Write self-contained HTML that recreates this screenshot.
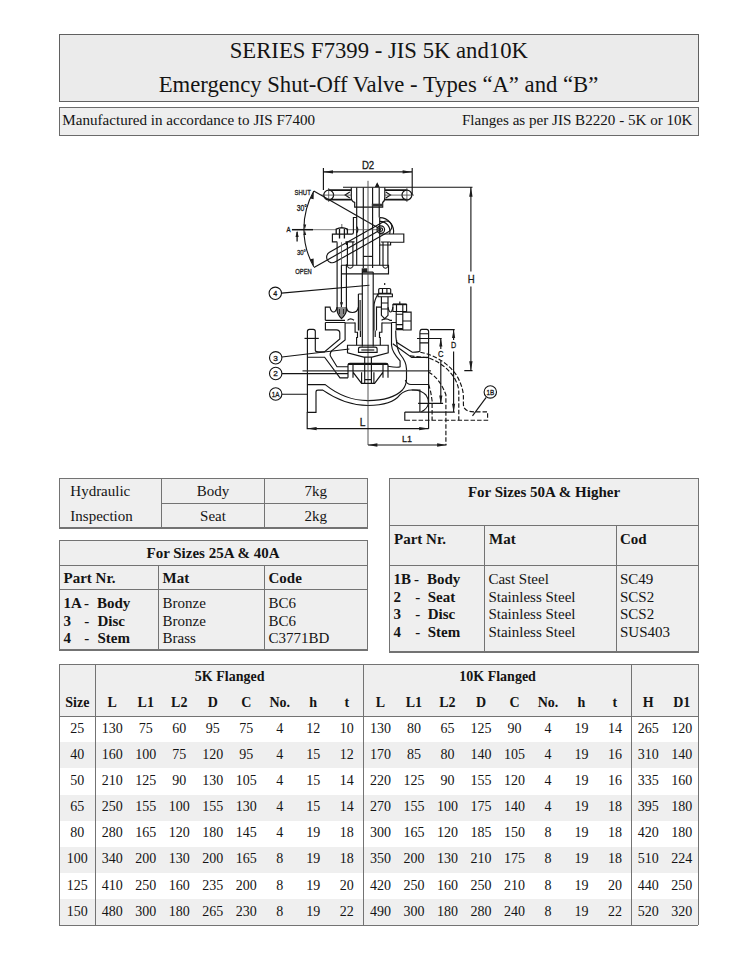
<!DOCTYPE html>
<html><head><meta charset="utf-8"><style>
html,body{margin:0;padding:0;background:#fff;width:731px;height:974px;overflow:hidden;}
body{position:relative;font-family:"Liberation Serif",serif;}
.a{position:absolute;}
.t{position:absolute;line-height:1;white-space:pre;color:#141414;}
</style></head><body>
<div class="a" style="left:59.5px;top:34.5px;width:638.6px;height:66.7px;background:#ebebeb;"></div>
<div class="a" style="left:58.925px;top:33.92px;width:639.7500000000001px;height:1.15px;background:#606060"></div>
<div class="a" style="left:58.925px;top:100.62px;width:639.7500000000001px;height:1.15px;background:#606060"></div>
<div class="a" style="left:58.92px;top:34.5px;width:1.15px;height:66.7px;background:#606060"></div>
<div class="a" style="left:697.52px;top:34.5px;width:1.15px;height:66.7px;background:#606060"></div>
<div class="t" style="top:40.49px;font-size:22.7px;left:-21.19999999999999px;width:800px;text-align:center;">SERIES F7399 - JIS 5K and10K</div>
<div class="t" style="top:73.69px;font-size:22.7px;left:-21.5px;width:800px;text-align:center;">Emergency Shut-Off Valve - Types “A” and “B”</div>
<div class="a" style="left:59.5px;top:107.5px;width:638.6px;height:27.69999999999999px;background:#eeeeee;"></div>
<div class="a" style="left:58.925px;top:106.92px;width:639.7500000000001px;height:1.15px;background:#6a6a6a"></div>
<div class="a" style="left:58.925px;top:134.62px;width:639.7500000000001px;height:1.15px;background:#6a6a6a"></div>
<div class="a" style="left:58.92px;top:107.5px;width:1.15px;height:27.69999999999999px;background:#6a6a6a"></div>
<div class="a" style="left:697.52px;top:107.5px;width:1.15px;height:27.69999999999999px;background:#6a6a6a"></div>
<div class="t" style="top:112.85px;font-size:15.1px;left:62.3px;">Manufactured in accordance to JIS F7400</div>
<div class="t" style="top:112.85px;font-size:15.1px;left:92.5px;width:600px;text-align:right;">Flanges as per JIS B2220 - 5K or 10K</div>
<svg class="a" style="left:0;top:0" width="731" height="974" viewBox="0 0 731 974">
<g fill="none" stroke="#141414" stroke-width="1.15" stroke-linecap="butt" stroke-linejoin="miter">
<!-- D2 dimension -->
<path d="M323.4,171.9H412.2M323.4,168V190M412.2,168V195"/>
<!-- H dimension -->
<path d="M343,187.3H472.5M470.9,187.3V271.5M470.9,286.5V370.6M464.3,370.6H472.5" stroke-width="1.1"/>
<!-- handwheel -->
<circle cx="328.7" cy="195.1" r="4.9" stroke-width="1.3"/>
<circle cx="406.9" cy="195.1" r="4.9" stroke-width="1.3"/>
<path d="M328.2,190.2H351.3M328.2,199.6H351.3M384.8,190.2H407.4M384.8,199.6H407.4" stroke-width="1.7"/>
<path d="M349.8,192.1L345.1,195.1L349.8,198.1M385.8,192.1L390.5,195.1L385.8,198.1"/>
<path d="M351.3,187.5V197.5Q351.3,201.5 354.7,202.4V207.1H382.7V202.4Q384.8,201.5 384.8,197.5V187.5"/>
<path d="M356.7,187.5V244M363.3,187.5V268M372.6,187.5V268M379.2,187.5V217.6"/>
<path d="M321,195.1H351.3M384.8,195.1H414M328.7,188V202M406.9,188V202" stroke-width="0.8" stroke="#444"/>
<path d="M375.5,187L377.2,183.5L379,187" fill="#1c1c1c"/>
<rect x="371.8" y="203.7" width="10.9" height="2.8" fill="#333" stroke="none"/>
<!-- angle indicator -->
<path d="M313.8,191A77.5,77.5 0 0 0 313.8,266.8" stroke-width="1.1"/>
<path d="M313.8,191L381,229.6"/>
<path d="M291.9,229.7H313" stroke-width="1.5"/><path d="M313,229.7H336.5M346.3,229.7H381" stroke="#555" stroke-width="0.8"/>
<path d="M297.1,232V241.5" stroke-width="1.3"/>
<!-- lever capsule -->
<g transform="rotate(-29.5 381 229.6)">
<path d="M325,224H387A5.6,5.6 0 0 1 387,235.2H325A5.6,5.6 0 0 1 325,224Z"/>
<path d="M304,229.6H381"/>
</g>
<circle cx="380.8" cy="229.6" r="3.8" stroke-width="1.2"/>
<circle cx="380.8" cy="229.6" r="1.8"/>
<path d="M379.7,217.6A14,14 0 0 1 393.4,234M379.7,221.4A10,10 0 0 1 389.6,234"/>
<!-- brackets -->
<path d="M379.7,217.6V234H403.8V242.2H390.6V245H379.7V234"/>
<path d="M356.7,217.5H353.4V232.5Q353.4,234.1 351.8,234.1H332.4V241.8H337.3"/><path d="M356.7,226.5Q359,229.8 356.7,233"/>

<path d="M336.2,234.1V229.2Q341.8,226.3 347.4,229.2V234.1M339.5,229V238.5M344.4,229V238.5" stroke-width="1.3"/><path d="M341.8,227V224" stroke="#777"/>
<path d="M337.1,242.2V307.1M346.4,264.3V307.1M346.4,242.2V245"/>
<path d="M341.5,242.2V307.1" stroke="#555" stroke-width="0.8"/>
<!-- studs -->
<path d="M347.4,242V266.5M352.9,242V266.5M383,242V266.5M387.9,242V266.5"/>
<path d="M345.5,241.8H354.5M381,242H390"/>
<path d="M347.4,266.5Q350.1,270 352.9,266.5M383,266.5Q385.5,270 387.9,266.5"/>
<path d="M341.4,265.2H388.5V273.8H341.4M341.4,265.2V307.1"/>
<path d="M379.7,245V265.2M356.7,244V265.2"/>
<path d="M363.3,256.4H372.6"/>
<rect x="361.7" y="268.3" width="5.5" height="3.8" fill="#222" stroke="none"/>
<!-- stem -->
<path d="M362.3,272.1V346.6M373.2,272.1V346.6M362.3,272.1H373.2"/>
<!-- leader 4 -->
<circle cx="275.3" cy="293.3" r="6.2" stroke-width="1.1"/>
<path d="M281.5,293.1L369.4,285.2"/>
<!-- left column tip -->
<path d="M337.1,307.1V310Q337.1,314 341.5,318.6Q346.4,314 346.4,310V307.1" fill="#888" stroke-width="1.2"/><path d="M339.5,309V314M343.5,309V314" stroke-width="0.8"/><rect x="340.3" y="302" width="2.4" height="2.4" fill="#222" stroke="none"/>
<!-- bonnet flange scalloped top -->
<path d="M325.3,320.3V307.1H330Q331,312 333.5,312Q336,312 337.1,307.1M346.4,307.1Q347,312.5 352.4,312.5Q357.5,312.5 358.4,307.1M376.5,307.1H381.4M388,307.1Q389,312 390.5,312Q392,312 392.9,307.1M325.3,320.3H345M347.5,320.3Q350.5,317.5 354,320.3M381.5,320.3Q386,317.5 390,320.3H392"/><path d="M402.8,312.1H411.1V330H402.8M402.8,321H411.1"/>
<path d="M325.3,322.5H345.1M391.5,322.5H396.2" stroke-width="1.2"/><path d="M345.1,323H355.1M381.9,323H391.5"/>
<!-- gland -->
<path d="M358.4,294H362.3M358.4,294V330.6M360.1,300V330.6M373.2,294H378.1Q374,300 374,307V330.6M376.5,306.6V330.6"/>
<path d="M355.1,322.5V332.2H357.5V337.5H356.6V345.2M381.9,322.5V332.2H379.5V337.5H380.3V345.2"/>
<path d="M360.4,330.6V337M375.2,330.6V337"/>
<!-- right gland stud -->
<path d="M378.7,293.4V289.5Q379,288.5 380,288.5H389.4Q390.7,288.5 390.7,289.5V293.4H378.7ZM382.5,288.5V293.4M386.9,288.5V293.4"/>
<path d="M378,294H392.4V296.7H378Z"/>
<path d="M381.4,296.7V315.3L384.7,318.6L388,315.3V296.7M381.4,303H388M381.4,309H388"/>
<path d="M384.7,285V283" />
<!-- big bolt right -->
<path d="M392.9,311.5V304.5H406.6V311.5Z" stroke-width="1.1"/><path d="M392.9,304.3H406.6" stroke-width="1.8"/><path d="M396.5,304.5V311.5M402.8,304.5V311.5M399.8,304V301.5"/>
<path d="M396.2,311.5V329.6H402.8V311.5M396.2,314.2H402.8M396.2,324.6H402.8"/>
<path d="M396.2,329H402.8" stroke-width="2"/>

<!-- body left contour -->
<path d="M307.4,412.3V331.5Q307.4,329.4 309.5,329.4H313.3Q315.3,329.4 315.3,331.5V350.4Q315.5,352 319,351.9H324.4L339.8,339V333Q339.8,329.8 336.4,329.8H325.4V322.5"/>
<path d="M304.5,338.4H318.8"/>
<path d="M345.1,322.5V339.9L331.6,350.9Q329,354.3 331,357L337,366.7H348"/>
<path d="M307.4,357.2H324.6L340,377.8H348"/>
<path d="M307.4,384.6H325.2Q345,400.6 368,400.6Q392,400.6 402.4,390Q406.5,385 406.5,378.4V369Q406.5,362 400,354Q396.6,348 396.6,340"/>
<path d="M307.4,412.3H316V392Q316,390.1 318,390.1H322.8Q345,405.5 368,405.5Q392,405.5 400.1,394.7Q405,390 411.7,390H419.9V412.1"/>
<!-- center lines -->
<path d="M302.5,370.8H431" stroke="#333" stroke-width="1.3"/>
<path d="M368,180.8V445" stroke="#444" stroke-width="0.9"/>
<!-- leaders 3,2,1A -->
<circle cx="275.7" cy="357.8" r="6.2" stroke-width="1.1"/>
<circle cx="275.7" cy="373.5" r="6.2" stroke-width="1.1"/>
<circle cx="275.7" cy="394" r="6.2" stroke-width="1.1"/>
<path d="M281.9,357L349.4,349M281.9,373.6H348M281.9,394.2H307.4"/>
<!-- disc holder -->
<path d="M347.5,345.2H388.2V352.8L372,357.1H363.7L347.5,352.8Z"/>
<path d="M358.5,352.4V349Q358.5,347.1 360.5,347.1H375.1Q377.1,347.1 377.1,349V352.4Z"/>
<path d="M361.3,350H374.3"/>
<!-- seat & disc -->
<path d="M348,377.8V365.5Q348,363.3 350,363.3H386Q388,363.3 388,365.5V377.8" />
<path d="M348,364.2H388" stroke-width="1.6"/>
<path d="M353,364.2V372.2L361.6,383.3H374.6L383,372.2V364.2M353,377.8V364M383,377.8V364"/>
<path d="M361.6,372.2V383.3M373.9,372.2V383.3M364.7,357.1V383.3M371.4,357.1V383.3M364.7,379.6H371.4"/>
<!-- right body -->
<path d="M428.6,428.8V331.5Q428.6,329.4 426.6,329.4H421.9Q419.9,329.4 419.9,333V351Q419.5,352.2 412.3,352.2L396.6,342.3Q395.7,338 395.7,330.6"/>
<path d="M417,338.5H436M419.9,333.7H428.6M419.9,342.8H428.6"/>
<path d="M392.8,343.7L411.7,357.4H428.6"/>
<path d="M391.5,322.5V345Q392,352 400.1,360.9V366.7Q398,368 388,366.2"/>
<path d="M405.3,380.1Q407,384.5 411,384.5H428.6M411.7,390Q421,389.5 426,395Q428.8,399 428.5,403Q427.5,409 421.3,411.8"/>
<!-- pipe (type B) dashed -->
<path d="M420.3,352.2C436,355 450,365 457,376C462,385 463.4,392 463.4,397V404Q463.4,411.8 473.7,411.8H487.6V420.2H410" stroke-dasharray="4.5 2"/>
<path d="M410,355.8L428.5,357.9C440,362 450,370 455.2,379.4C458,385 458.8,389 458.8,392V420.2" stroke-dasharray="4.5 2"/>
<path d="M428.5,372.2C436,376 442,384 445.9,394.8V445" stroke-dasharray="4.5 2"/>
<path d="M428.6,384.5C429.5,387 431,392 432.1,401V420.2" stroke-dasharray="4.5 2"/>
<path d="M404.8,412.1H419.9M404.8,412.1V420.2H410"/>
<!-- C and D dims -->
<path d="M430,329.6H454.7M453.6,329.6V340M453.6,351.6V412.1M419.9,412.1H454.8"/>
<path d="M432,338.5H441.7M440.8,338.5V349M440.8,361V403.4M418.1,403.4H443.1"/>
<!-- L dims -->
<path d="M307.2,412V428.6H428.6"/>
<path d="M368,445H446.5" />
<!-- leader 1B -->
<circle cx="490.3" cy="391.9" r="6.2" stroke-width="1.1"/>
<path d="M486.2,397.4L472.5,415.8"/>
</g>
<g fill="#1c1c1c" stroke="none">
<!-- arrowheads -->
<path d="M323.4,171.9L333,170.2V173.6Z"/>
<path d="M412.2,171.9L402.6,170.2V173.6Z"/>
<path d="M470.9,187.3L469.2,196.7H472.6Z"/>
<path d="M470.9,370.6L469.2,361.2H472.6Z"/>
<path d="M453.6,329.6L452,338H455.2Z"/>
<path d="M453.6,412.1L452,403.7H455.2Z"/>
<path d="M440.8,338.5L439.2,346.5H442.4Z"/>
<path d="M440.8,403.4L439.2,395.4H442.4Z"/>
<path d="M307.2,428.6L316.6,426.9V430.3Z"/>
<path d="M428.6,428.6L419.2,426.9V430.3Z"/>
<path d="M368,445L377.4,443.3V446.7Z"/>
<path d="M446.5,445L437.1,443.3V446.7Z"/>
<path d="M297.1,230.5L295.5,237H298.7Z"/>
<path d="M313.8,191L310.3,198.5L313.6,199.3Z"/>
<path d="M313.8,266.8L310.3,259.3L313.6,258.5Z"/>
<path d="M304.9,229.2L303.4,224.5L306.2,224.5Z"/>
<path d="M304.9,230.4L303.4,235L306.2,235Z"/>
</g>
<g fill="#1a1a1a" font-family="Liberation Sans, sans-serif" stroke="#1a1a1a" stroke-width="0.3">
<text x="361.9" y="169.2" font-size="10.5" textLength="12.3" lengthAdjust="spacingAndGlyphs">D2</text>
<text x="467.7" y="283.1" font-size="10.5" textLength="6.9" lengthAdjust="spacingAndGlyphs">H</text>
<text x="450.9" y="348.3" font-size="9.2" textLength="5.2" lengthAdjust="spacingAndGlyphs">D</text>
<text x="438" y="357.2" font-size="8.6" textLength="5.5" lengthAdjust="spacingAndGlyphs">C</text>
<text x="359.8" y="425.6" font-size="10.6" textLength="5.7" lengthAdjust="spacingAndGlyphs">L</text>
<text x="402" y="441.8" font-size="9.4" textLength="10" lengthAdjust="spacingAndGlyphs">L1</text>
<text x="294.6" y="195.1" font-size="7.4" textLength="16.2" lengthAdjust="spacingAndGlyphs">SHUT</text>
<text x="296.7" y="210.9" font-size="8.2" textLength="10.3" lengthAdjust="spacingAndGlyphs">30°</text>
<text x="286.4" y="231.9" font-size="6.6" textLength="4.1" lengthAdjust="spacingAndGlyphs">A</text>
<text x="297" y="255.1" font-size="7.4" textLength="9" lengthAdjust="spacingAndGlyphs">30°</text>
<text x="295.3" y="273.6" font-size="7.4" textLength="16.4" lengthAdjust="spacingAndGlyphs">OPEN</text>
<text x="273.3" y="296.2" font-size="7.5" textLength="4" lengthAdjust="spacingAndGlyphs">4</text>
<text x="273.3" y="360.7" font-size="8" textLength="4.6" lengthAdjust="spacingAndGlyphs">3</text>
<text x="273.3" y="376.4" font-size="8" textLength="4.6" lengthAdjust="spacingAndGlyphs">2</text>
<text x="271.8" y="396.9" font-size="8" textLength="7.8" lengthAdjust="spacingAndGlyphs">1A</text>
<text x="486.4" y="394.8" font-size="8" textLength="7.8" lengthAdjust="spacingAndGlyphs">1B</text>
</g>
</svg>

<div class="a" style="left:59.4px;top:478.3px;width:307.90000000000003px;height:49.69999999999999px;background:#efefef;"></div>
<div class="a" style="left:58.824999999999996px;top:477.73px;width:309.05px;height:1.15px;background:#737373"></div>
<div class="a" style="left:58.824999999999996px;top:527.42px;width:309.05px;height:1.15px;background:#737373"></div>
<div class="a" style="left:58.82px;top:478.3px;width:1.15px;height:49.69999999999999px;background:#737373"></div>
<div class="a" style="left:366.73px;top:478.3px;width:1.15px;height:49.69999999999999px;background:#737373"></div>
<div class="a" style="left:161.12px;top:478.3px;width:1.15px;height:49.69999999999999px;background:#737373"></div>
<div class="a" style="left:264.23px;top:478.3px;width:1.15px;height:49.69999999999999px;background:#737373"></div>
<div class="a" style="left:161.7px;top:502.82px;width:205.60000000000002px;height:1.15px;background:#737373"></div>
<div class="t" style="top:484.04px;font-size:15px;left:70.3px;">Hydraulic</div>
<div class="t" style="top:508.84px;font-size:15px;left:70.3px;">Inspection</div>
<div class="t" style="top:484.04px;font-size:15px;left:-187px;width:800px;text-align:center;">Body</div>
<div class="t" style="top:508.84px;font-size:15px;left:-187px;width:800px;text-align:center;">Seat</div>
<div class="t" style="top:484.04px;font-size:15px;left:-84.19999999999999px;width:800px;text-align:center;">7kg</div>
<div class="t" style="top:508.84px;font-size:15px;left:-84.19999999999999px;width:800px;text-align:center;">2kg</div>
<div class="a" style="left:59.4px;top:540.5px;width:307.8px;height:109.5px;background:#efefef;"></div>
<div class="a" style="left:58.824999999999996px;top:539.92px;width:308.95px;height:1.15px;background:#737373"></div>
<div class="a" style="left:58.824999999999996px;top:649.42px;width:308.95px;height:1.15px;background:#737373"></div>
<div class="a" style="left:58.82px;top:540.5px;width:1.15px;height:109.5px;background:#737373"></div>
<div class="a" style="left:366.62px;top:540.5px;width:1.15px;height:109.5px;background:#737373"></div>
<div class="a" style="left:59.4px;top:564.62px;width:307.8px;height:1.15px;background:#737373"></div>
<div class="a" style="left:59.4px;top:588.72px;width:307.8px;height:1.15px;background:#737373"></div>
<div class="a" style="left:157.93px;top:565.2px;width:1.15px;height:84.79999999999995px;background:#737373"></div>
<div class="a" style="left:263.73px;top:565.2px;width:1.15px;height:84.79999999999995px;background:#737373"></div>
<div class="t" style="top:546.34px;font-size:15px;font-weight:bold;left:-187px;width:800px;text-align:center;">For Sizes 25A &amp; 40A</div>
<div class="t" style="top:571.04px;font-size:15px;font-weight:bold;left:63.5px;">Part Nr.</div>
<div class="t" style="top:571.04px;font-size:15px;font-weight:bold;left:162.5px;">Mat</div>
<div class="t" style="top:571.04px;font-size:15px;font-weight:bold;left:268.5px;">Code</div>
<div class="t" style="top:596.24px;font-size:15px;font-weight:bold;left:63.5px;">1A</div>
<div class="t" style="top:596.24px;font-size:15px;font-weight:bold;left:83.9px;">-</div>
<div class="t" style="top:596.24px;font-size:15px;font-weight:bold;left:97.0px;">Body</div>
<div class="t" style="top:596.24px;font-size:15px;left:162.5px;">Bronze</div>
<div class="t" style="top:596.24px;font-size:15px;left:268.5px;">BC6</div>
<div class="t" style="top:613.64px;font-size:15px;font-weight:bold;left:63.5px;">3</div>
<div class="t" style="top:613.64px;font-size:15px;font-weight:bold;left:84.32000000000001px;">-</div>
<div class="t" style="top:613.64px;font-size:15px;font-weight:bold;left:97.42px;">Disc</div>
<div class="t" style="top:613.64px;font-size:15px;left:162.5px;">Bronze</div>
<div class="t" style="top:613.64px;font-size:15px;left:268.5px;">BC6</div>
<div class="t" style="top:631.04px;font-size:15px;font-weight:bold;left:63.5px;">4</div>
<div class="t" style="top:631.04px;font-size:15px;font-weight:bold;left:84.32000000000001px;">-</div>
<div class="t" style="top:631.04px;font-size:15px;font-weight:bold;left:97.42px;">Stem</div>
<div class="t" style="top:631.04px;font-size:15px;left:162.5px;">Brass</div>
<div class="t" style="top:631.04px;font-size:15px;left:268.5px;">C3771BD</div>
<div class="a" style="left:389.8px;top:478.3px;width:308.40000000000003px;height:173.7px;background:#efefef;"></div>
<div class="a" style="left:389.225px;top:477.73px;width:309.55000000000007px;height:1.15px;background:#737373"></div>
<div class="a" style="left:389.225px;top:651.42px;width:309.55000000000007px;height:1.15px;background:#737373"></div>
<div class="a" style="left:389.23px;top:478.3px;width:1.15px;height:173.7px;background:#737373"></div>
<div class="a" style="left:697.62px;top:478.3px;width:1.15px;height:173.7px;background:#737373"></div>
<div class="a" style="left:389.8px;top:524.72px;width:308.40000000000003px;height:1.15px;background:#737373"></div>
<div class="a" style="left:389.8px;top:565.02px;width:308.40000000000003px;height:1.15px;background:#737373"></div>
<div class="a" style="left:484.03px;top:525.4px;width:1.15px;height:126.60000000000002px;background:#737373"></div>
<div class="a" style="left:615.52px;top:525.4px;width:1.15px;height:126.60000000000002px;background:#737373"></div>
<div class="t" style="top:484.64px;font-size:15px;font-weight:bold;left:144px;width:800px;text-align:center;">For Sizes 50A &amp; Higher</div>
<div class="t" style="top:532.04px;font-size:15px;font-weight:bold;left:394px;">Part Nr.</div>
<div class="t" style="top:532.04px;font-size:15px;font-weight:bold;left:489px;">Mat</div>
<div class="t" style="top:532.04px;font-size:15px;font-weight:bold;left:620px;">Cod</div>
<div class="t" style="top:572.14px;font-size:15px;font-weight:bold;left:393.5px;">1B</div>
<div class="t" style="top:572.14px;font-size:15px;font-weight:bold;left:414px;">-</div>
<div class="t" style="top:572.14px;font-size:15px;font-weight:bold;left:427.0px;">Body</div>
<div class="t" style="top:572.14px;font-size:15px;left:488.4px;">Cast Steel</div>
<div class="t" style="top:572.14px;font-size:15px;left:620px;">SC49</div>
<div class="t" style="top:589.64px;font-size:15px;font-weight:bold;left:393.5px;">2</div>
<div class="t" style="top:589.64px;font-size:15px;font-weight:bold;left:415.3px;">-</div>
<div class="t" style="top:589.64px;font-size:15px;font-weight:bold;left:427.78px;">Seat</div>
<div class="t" style="top:589.64px;font-size:15px;left:488.4px;">Stainless Steel</div>
<div class="t" style="top:589.64px;font-size:15px;left:620px;">SCS2</div>
<div class="t" style="top:607.14px;font-size:15px;font-weight:bold;left:393.5px;">3</div>
<div class="t" style="top:607.14px;font-size:15px;font-weight:bold;left:415.3px;">-</div>
<div class="t" style="top:607.14px;font-size:15px;font-weight:bold;left:427.78px;">Disc</div>
<div class="t" style="top:607.14px;font-size:15px;left:488.4px;">Stainless Steel</div>
<div class="t" style="top:607.14px;font-size:15px;left:620px;">SCS2</div>
<div class="t" style="top:624.64px;font-size:15px;font-weight:bold;left:393.5px;">4</div>
<div class="t" style="top:624.64px;font-size:15px;font-weight:bold;left:415.3px;">-</div>
<div class="t" style="top:624.64px;font-size:15px;font-weight:bold;left:427.78px;">Stem</div>
<div class="t" style="top:624.64px;font-size:15px;left:488.4px;">Stainless Steel</div>
<div class="t" style="top:624.64px;font-size:15px;left:620px;">SUS403</div>
<div class="a" style="left:59.4px;top:664.4px;width:638.8000000000001px;height:51.80000000000007px;background:#efefef;"></div>
<div class="a" style="left:59.4px;top:742.3000000000001px;width:638.8000000000001px;height:26.100000000000023px;background:#efefef;"></div>
<div class="a" style="left:59.4px;top:794.5px;width:638.8000000000001px;height:26.100000000000023px;background:#efefef;"></div>
<div class="a" style="left:59.4px;top:846.7px;width:638.8000000000001px;height:26.100000000000023px;background:#efefef;"></div>
<div class="a" style="left:59.4px;top:898.9000000000001px;width:638.8000000000001px;height:26.100000000000023px;background:#efefef;"></div>
<div class="a" style="left:59.4px;top:663.82px;width:638.8000000000001px;height:1.15px;background:#737373"></div>
<div class="a" style="left:59.4px;top:924.62px;width:638.8000000000001px;height:1.15px;background:#737373"></div>
<div class="a" style="left:59.4px;top:715.62px;width:638.8000000000001px;height:1.15px;background:#737373"></div>
<div class="a" style="left:58.82px;top:664.4px;width:1.15px;height:260.80000000000007px;background:#737373"></div>
<div class="a" style="left:697.62px;top:664.4px;width:1.15px;height:260.80000000000007px;background:#737373"></div>
<div class="a" style="left:94.92px;top:664.4px;width:1.15px;height:260.80000000000007px;background:#737373"></div>
<div class="a" style="left:363.12px;top:664.4px;width:1.15px;height:260.80000000000007px;background:#737373"></div>
<div class="a" style="left:630.92px;top:664.4px;width:1.15px;height:260.80000000000007px;background:#737373"></div>
<div class="t" style="top:669.77px;font-size:14px;font-weight:bold;left:-170.4px;width:800px;text-align:center;">5K Flanged</div>
<div class="t" style="top:669.77px;font-size:14px;font-weight:bold;left:97.60000000000002px;width:800px;text-align:center;">10K Flanged</div>
<div class="t" style="top:696.07px;font-size:14px;font-weight:bold;left:-322.7px;width:800px;text-align:center;">Size</div>
<div class="t" style="top:696.07px;font-size:14px;font-weight:bold;left:-287.75px;width:800px;text-align:center;">L</div>
<div class="t" style="top:696.07px;font-size:14px;font-weight:bold;left:-19.55000000000001px;width:800px;text-align:center;">L</div>
<div class="t" style="top:696.07px;font-size:14px;font-weight:bold;left:-254.25px;width:800px;text-align:center;">L1</div>
<div class="t" style="top:696.07px;font-size:14px;font-weight:bold;left:13.949999999999989px;width:800px;text-align:center;">L1</div>
<div class="t" style="top:696.07px;font-size:14px;font-weight:bold;left:-220.75px;width:800px;text-align:center;">L2</div>
<div class="t" style="top:696.07px;font-size:14px;font-weight:bold;left:47.44999999999999px;width:800px;text-align:center;">L2</div>
<div class="t" style="top:696.07px;font-size:14px;font-weight:bold;left:-187.25px;width:800px;text-align:center;">D</div>
<div class="t" style="top:696.07px;font-size:14px;font-weight:bold;left:80.94999999999999px;width:800px;text-align:center;">D</div>
<div class="t" style="top:696.07px;font-size:14px;font-weight:bold;left:-153.75px;width:800px;text-align:center;">C</div>
<div class="t" style="top:696.07px;font-size:14px;font-weight:bold;left:114.45000000000005px;width:800px;text-align:center;">C</div>
<div class="t" style="top:696.07px;font-size:14px;font-weight:bold;left:-120.25px;width:800px;text-align:center;">No.</div>
<div class="t" style="top:696.07px;font-size:14px;font-weight:bold;left:147.95000000000005px;width:800px;text-align:center;">No.</div>
<div class="t" style="top:696.07px;font-size:14px;font-weight:bold;left:-86.75px;width:800px;text-align:center;">h</div>
<div class="t" style="top:696.07px;font-size:14px;font-weight:bold;left:181.45000000000005px;width:800px;text-align:center;">h</div>
<div class="t" style="top:696.07px;font-size:14px;font-weight:bold;left:-53.25px;width:800px;text-align:center;">t</div>
<div class="t" style="top:696.07px;font-size:14px;font-weight:bold;left:214.95000000000005px;width:800px;text-align:center;">t</div>
<div class="t" style="top:696.07px;font-size:14px;font-weight:bold;left:248.25px;width:800px;text-align:center;">H</div>
<div class="t" style="top:696.07px;font-size:14px;font-weight:bold;left:281.75px;width:800px;text-align:center;">D1</div>
<div class="t" style="top:721.97px;font-size:14px;left:-322.7px;width:800px;text-align:center;">25</div>
<div class="t" style="top:721.97px;font-size:14px;left:-287.75px;width:800px;text-align:center;">130</div>
<div class="t" style="top:721.97px;font-size:14px;left:-254.25px;width:800px;text-align:center;">75</div>
<div class="t" style="top:721.97px;font-size:14px;left:-220.75px;width:800px;text-align:center;">60</div>
<div class="t" style="top:721.97px;font-size:14px;left:-187.25px;width:800px;text-align:center;">95</div>
<div class="t" style="top:721.97px;font-size:14px;left:-153.75px;width:800px;text-align:center;">75</div>
<div class="t" style="top:721.97px;font-size:14px;left:-120.25px;width:800px;text-align:center;">4</div>
<div class="t" style="top:721.97px;font-size:14px;left:-86.75px;width:800px;text-align:center;">12</div>
<div class="t" style="top:721.97px;font-size:14px;left:-53.25px;width:800px;text-align:center;">10</div>
<div class="t" style="top:721.97px;font-size:14px;left:-19.55000000000001px;width:800px;text-align:center;">130</div>
<div class="t" style="top:721.97px;font-size:14px;left:13.949999999999989px;width:800px;text-align:center;">80</div>
<div class="t" style="top:721.97px;font-size:14px;left:47.44999999999999px;width:800px;text-align:center;">65</div>
<div class="t" style="top:721.97px;font-size:14px;left:80.94999999999999px;width:800px;text-align:center;">125</div>
<div class="t" style="top:721.97px;font-size:14px;left:114.45000000000005px;width:800px;text-align:center;">90</div>
<div class="t" style="top:721.97px;font-size:14px;left:147.95000000000005px;width:800px;text-align:center;">4</div>
<div class="t" style="top:721.97px;font-size:14px;left:181.45000000000005px;width:800px;text-align:center;">19</div>
<div class="t" style="top:721.97px;font-size:14px;left:214.95000000000005px;width:800px;text-align:center;">14</div>
<div class="t" style="top:721.97px;font-size:14px;left:248.25px;width:800px;text-align:center;">265</div>
<div class="t" style="top:721.97px;font-size:14px;left:281.75px;width:800px;text-align:center;">120</div>
<div class="t" style="top:748.07px;font-size:14px;left:-322.7px;width:800px;text-align:center;">40</div>
<div class="t" style="top:748.07px;font-size:14px;left:-287.75px;width:800px;text-align:center;">160</div>
<div class="t" style="top:748.07px;font-size:14px;left:-254.25px;width:800px;text-align:center;">100</div>
<div class="t" style="top:748.07px;font-size:14px;left:-220.75px;width:800px;text-align:center;">75</div>
<div class="t" style="top:748.07px;font-size:14px;left:-187.25px;width:800px;text-align:center;">120</div>
<div class="t" style="top:748.07px;font-size:14px;left:-153.75px;width:800px;text-align:center;">95</div>
<div class="t" style="top:748.07px;font-size:14px;left:-120.25px;width:800px;text-align:center;">4</div>
<div class="t" style="top:748.07px;font-size:14px;left:-86.75px;width:800px;text-align:center;">15</div>
<div class="t" style="top:748.07px;font-size:14px;left:-53.25px;width:800px;text-align:center;">12</div>
<div class="t" style="top:748.07px;font-size:14px;left:-19.55000000000001px;width:800px;text-align:center;">170</div>
<div class="t" style="top:748.07px;font-size:14px;left:13.949999999999989px;width:800px;text-align:center;">85</div>
<div class="t" style="top:748.07px;font-size:14px;left:47.44999999999999px;width:800px;text-align:center;">80</div>
<div class="t" style="top:748.07px;font-size:14px;left:80.94999999999999px;width:800px;text-align:center;">140</div>
<div class="t" style="top:748.07px;font-size:14px;left:114.45000000000005px;width:800px;text-align:center;">105</div>
<div class="t" style="top:748.07px;font-size:14px;left:147.95000000000005px;width:800px;text-align:center;">4</div>
<div class="t" style="top:748.07px;font-size:14px;left:181.45000000000005px;width:800px;text-align:center;">19</div>
<div class="t" style="top:748.07px;font-size:14px;left:214.95000000000005px;width:800px;text-align:center;">16</div>
<div class="t" style="top:748.07px;font-size:14px;left:248.25px;width:800px;text-align:center;">310</div>
<div class="t" style="top:748.07px;font-size:14px;left:281.75px;width:800px;text-align:center;">140</div>
<div class="t" style="top:774.17px;font-size:14px;left:-322.7px;width:800px;text-align:center;">50</div>
<div class="t" style="top:774.17px;font-size:14px;left:-287.75px;width:800px;text-align:center;">210</div>
<div class="t" style="top:774.17px;font-size:14px;left:-254.25px;width:800px;text-align:center;">125</div>
<div class="t" style="top:774.17px;font-size:14px;left:-220.75px;width:800px;text-align:center;">90</div>
<div class="t" style="top:774.17px;font-size:14px;left:-187.25px;width:800px;text-align:center;">130</div>
<div class="t" style="top:774.17px;font-size:14px;left:-153.75px;width:800px;text-align:center;">105</div>
<div class="t" style="top:774.17px;font-size:14px;left:-120.25px;width:800px;text-align:center;">4</div>
<div class="t" style="top:774.17px;font-size:14px;left:-86.75px;width:800px;text-align:center;">15</div>
<div class="t" style="top:774.17px;font-size:14px;left:-53.25px;width:800px;text-align:center;">14</div>
<div class="t" style="top:774.17px;font-size:14px;left:-19.55000000000001px;width:800px;text-align:center;">220</div>
<div class="t" style="top:774.17px;font-size:14px;left:13.949999999999989px;width:800px;text-align:center;">125</div>
<div class="t" style="top:774.17px;font-size:14px;left:47.44999999999999px;width:800px;text-align:center;">90</div>
<div class="t" style="top:774.17px;font-size:14px;left:80.94999999999999px;width:800px;text-align:center;">155</div>
<div class="t" style="top:774.17px;font-size:14px;left:114.45000000000005px;width:800px;text-align:center;">120</div>
<div class="t" style="top:774.17px;font-size:14px;left:147.95000000000005px;width:800px;text-align:center;">4</div>
<div class="t" style="top:774.17px;font-size:14px;left:181.45000000000005px;width:800px;text-align:center;">19</div>
<div class="t" style="top:774.17px;font-size:14px;left:214.95000000000005px;width:800px;text-align:center;">16</div>
<div class="t" style="top:774.17px;font-size:14px;left:248.25px;width:800px;text-align:center;">335</div>
<div class="t" style="top:774.17px;font-size:14px;left:281.75px;width:800px;text-align:center;">160</div>
<div class="t" style="top:800.27px;font-size:14px;left:-322.7px;width:800px;text-align:center;">65</div>
<div class="t" style="top:800.27px;font-size:14px;left:-287.75px;width:800px;text-align:center;">250</div>
<div class="t" style="top:800.27px;font-size:14px;left:-254.25px;width:800px;text-align:center;">155</div>
<div class="t" style="top:800.27px;font-size:14px;left:-220.75px;width:800px;text-align:center;">100</div>
<div class="t" style="top:800.27px;font-size:14px;left:-187.25px;width:800px;text-align:center;">155</div>
<div class="t" style="top:800.27px;font-size:14px;left:-153.75px;width:800px;text-align:center;">130</div>
<div class="t" style="top:800.27px;font-size:14px;left:-120.25px;width:800px;text-align:center;">4</div>
<div class="t" style="top:800.27px;font-size:14px;left:-86.75px;width:800px;text-align:center;">15</div>
<div class="t" style="top:800.27px;font-size:14px;left:-53.25px;width:800px;text-align:center;">14</div>
<div class="t" style="top:800.27px;font-size:14px;left:-19.55000000000001px;width:800px;text-align:center;">270</div>
<div class="t" style="top:800.27px;font-size:14px;left:13.949999999999989px;width:800px;text-align:center;">155</div>
<div class="t" style="top:800.27px;font-size:14px;left:47.44999999999999px;width:800px;text-align:center;">100</div>
<div class="t" style="top:800.27px;font-size:14px;left:80.94999999999999px;width:800px;text-align:center;">175</div>
<div class="t" style="top:800.27px;font-size:14px;left:114.45000000000005px;width:800px;text-align:center;">140</div>
<div class="t" style="top:800.27px;font-size:14px;left:147.95000000000005px;width:800px;text-align:center;">4</div>
<div class="t" style="top:800.27px;font-size:14px;left:181.45000000000005px;width:800px;text-align:center;">19</div>
<div class="t" style="top:800.27px;font-size:14px;left:214.95000000000005px;width:800px;text-align:center;">18</div>
<div class="t" style="top:800.27px;font-size:14px;left:248.25px;width:800px;text-align:center;">395</div>
<div class="t" style="top:800.27px;font-size:14px;left:281.75px;width:800px;text-align:center;">180</div>
<div class="t" style="top:826.37px;font-size:14px;left:-322.7px;width:800px;text-align:center;">80</div>
<div class="t" style="top:826.37px;font-size:14px;left:-287.75px;width:800px;text-align:center;">280</div>
<div class="t" style="top:826.37px;font-size:14px;left:-254.25px;width:800px;text-align:center;">165</div>
<div class="t" style="top:826.37px;font-size:14px;left:-220.75px;width:800px;text-align:center;">120</div>
<div class="t" style="top:826.37px;font-size:14px;left:-187.25px;width:800px;text-align:center;">180</div>
<div class="t" style="top:826.37px;font-size:14px;left:-153.75px;width:800px;text-align:center;">145</div>
<div class="t" style="top:826.37px;font-size:14px;left:-120.25px;width:800px;text-align:center;">4</div>
<div class="t" style="top:826.37px;font-size:14px;left:-86.75px;width:800px;text-align:center;">19</div>
<div class="t" style="top:826.37px;font-size:14px;left:-53.25px;width:800px;text-align:center;">18</div>
<div class="t" style="top:826.37px;font-size:14px;left:-19.55000000000001px;width:800px;text-align:center;">300</div>
<div class="t" style="top:826.37px;font-size:14px;left:13.949999999999989px;width:800px;text-align:center;">165</div>
<div class="t" style="top:826.37px;font-size:14px;left:47.44999999999999px;width:800px;text-align:center;">120</div>
<div class="t" style="top:826.37px;font-size:14px;left:80.94999999999999px;width:800px;text-align:center;">185</div>
<div class="t" style="top:826.37px;font-size:14px;left:114.45000000000005px;width:800px;text-align:center;">150</div>
<div class="t" style="top:826.37px;font-size:14px;left:147.95000000000005px;width:800px;text-align:center;">8</div>
<div class="t" style="top:826.37px;font-size:14px;left:181.45000000000005px;width:800px;text-align:center;">19</div>
<div class="t" style="top:826.37px;font-size:14px;left:214.95000000000005px;width:800px;text-align:center;">18</div>
<div class="t" style="top:826.37px;font-size:14px;left:248.25px;width:800px;text-align:center;">420</div>
<div class="t" style="top:826.37px;font-size:14px;left:281.75px;width:800px;text-align:center;">180</div>
<div class="t" style="top:852.47px;font-size:14px;left:-322.7px;width:800px;text-align:center;">100</div>
<div class="t" style="top:852.47px;font-size:14px;left:-287.75px;width:800px;text-align:center;">340</div>
<div class="t" style="top:852.47px;font-size:14px;left:-254.25px;width:800px;text-align:center;">200</div>
<div class="t" style="top:852.47px;font-size:14px;left:-220.75px;width:800px;text-align:center;">130</div>
<div class="t" style="top:852.47px;font-size:14px;left:-187.25px;width:800px;text-align:center;">200</div>
<div class="t" style="top:852.47px;font-size:14px;left:-153.75px;width:800px;text-align:center;">165</div>
<div class="t" style="top:852.47px;font-size:14px;left:-120.25px;width:800px;text-align:center;">8</div>
<div class="t" style="top:852.47px;font-size:14px;left:-86.75px;width:800px;text-align:center;">19</div>
<div class="t" style="top:852.47px;font-size:14px;left:-53.25px;width:800px;text-align:center;">18</div>
<div class="t" style="top:852.47px;font-size:14px;left:-19.55000000000001px;width:800px;text-align:center;">350</div>
<div class="t" style="top:852.47px;font-size:14px;left:13.949999999999989px;width:800px;text-align:center;">200</div>
<div class="t" style="top:852.47px;font-size:14px;left:47.44999999999999px;width:800px;text-align:center;">130</div>
<div class="t" style="top:852.47px;font-size:14px;left:80.94999999999999px;width:800px;text-align:center;">210</div>
<div class="t" style="top:852.47px;font-size:14px;left:114.45000000000005px;width:800px;text-align:center;">175</div>
<div class="t" style="top:852.47px;font-size:14px;left:147.95000000000005px;width:800px;text-align:center;">8</div>
<div class="t" style="top:852.47px;font-size:14px;left:181.45000000000005px;width:800px;text-align:center;">19</div>
<div class="t" style="top:852.47px;font-size:14px;left:214.95000000000005px;width:800px;text-align:center;">18</div>
<div class="t" style="top:852.47px;font-size:14px;left:248.25px;width:800px;text-align:center;">510</div>
<div class="t" style="top:852.47px;font-size:14px;left:281.75px;width:800px;text-align:center;">224</div>
<div class="t" style="top:878.57px;font-size:14px;left:-322.7px;width:800px;text-align:center;">125</div>
<div class="t" style="top:878.57px;font-size:14px;left:-287.75px;width:800px;text-align:center;">410</div>
<div class="t" style="top:878.57px;font-size:14px;left:-254.25px;width:800px;text-align:center;">250</div>
<div class="t" style="top:878.57px;font-size:14px;left:-220.75px;width:800px;text-align:center;">160</div>
<div class="t" style="top:878.57px;font-size:14px;left:-187.25px;width:800px;text-align:center;">235</div>
<div class="t" style="top:878.57px;font-size:14px;left:-153.75px;width:800px;text-align:center;">200</div>
<div class="t" style="top:878.57px;font-size:14px;left:-120.25px;width:800px;text-align:center;">8</div>
<div class="t" style="top:878.57px;font-size:14px;left:-86.75px;width:800px;text-align:center;">19</div>
<div class="t" style="top:878.57px;font-size:14px;left:-53.25px;width:800px;text-align:center;">20</div>
<div class="t" style="top:878.57px;font-size:14px;left:-19.55000000000001px;width:800px;text-align:center;">420</div>
<div class="t" style="top:878.57px;font-size:14px;left:13.949999999999989px;width:800px;text-align:center;">250</div>
<div class="t" style="top:878.57px;font-size:14px;left:47.44999999999999px;width:800px;text-align:center;">160</div>
<div class="t" style="top:878.57px;font-size:14px;left:80.94999999999999px;width:800px;text-align:center;">250</div>
<div class="t" style="top:878.57px;font-size:14px;left:114.45000000000005px;width:800px;text-align:center;">210</div>
<div class="t" style="top:878.57px;font-size:14px;left:147.95000000000005px;width:800px;text-align:center;">8</div>
<div class="t" style="top:878.57px;font-size:14px;left:181.45000000000005px;width:800px;text-align:center;">19</div>
<div class="t" style="top:878.57px;font-size:14px;left:214.95000000000005px;width:800px;text-align:center;">20</div>
<div class="t" style="top:878.57px;font-size:14px;left:248.25px;width:800px;text-align:center;">440</div>
<div class="t" style="top:878.57px;font-size:14px;left:281.75px;width:800px;text-align:center;">250</div>
<div class="t" style="top:904.67px;font-size:14px;left:-322.7px;width:800px;text-align:center;">150</div>
<div class="t" style="top:904.67px;font-size:14px;left:-287.75px;width:800px;text-align:center;">480</div>
<div class="t" style="top:904.67px;font-size:14px;left:-254.25px;width:800px;text-align:center;">300</div>
<div class="t" style="top:904.67px;font-size:14px;left:-220.75px;width:800px;text-align:center;">180</div>
<div class="t" style="top:904.67px;font-size:14px;left:-187.25px;width:800px;text-align:center;">265</div>
<div class="t" style="top:904.67px;font-size:14px;left:-153.75px;width:800px;text-align:center;">230</div>
<div class="t" style="top:904.67px;font-size:14px;left:-120.25px;width:800px;text-align:center;">8</div>
<div class="t" style="top:904.67px;font-size:14px;left:-86.75px;width:800px;text-align:center;">19</div>
<div class="t" style="top:904.67px;font-size:14px;left:-53.25px;width:800px;text-align:center;">22</div>
<div class="t" style="top:904.67px;font-size:14px;left:-19.55000000000001px;width:800px;text-align:center;">490</div>
<div class="t" style="top:904.67px;font-size:14px;left:13.949999999999989px;width:800px;text-align:center;">300</div>
<div class="t" style="top:904.67px;font-size:14px;left:47.44999999999999px;width:800px;text-align:center;">180</div>
<div class="t" style="top:904.67px;font-size:14px;left:80.94999999999999px;width:800px;text-align:center;">280</div>
<div class="t" style="top:904.67px;font-size:14px;left:114.45000000000005px;width:800px;text-align:center;">240</div>
<div class="t" style="top:904.67px;font-size:14px;left:147.95000000000005px;width:800px;text-align:center;">8</div>
<div class="t" style="top:904.67px;font-size:14px;left:181.45000000000005px;width:800px;text-align:center;">19</div>
<div class="t" style="top:904.67px;font-size:14px;left:214.95000000000005px;width:800px;text-align:center;">22</div>
<div class="t" style="top:904.67px;font-size:14px;left:248.25px;width:800px;text-align:center;">520</div>
<div class="t" style="top:904.67px;font-size:14px;left:281.75px;width:800px;text-align:center;">320</div>
</body></html>
